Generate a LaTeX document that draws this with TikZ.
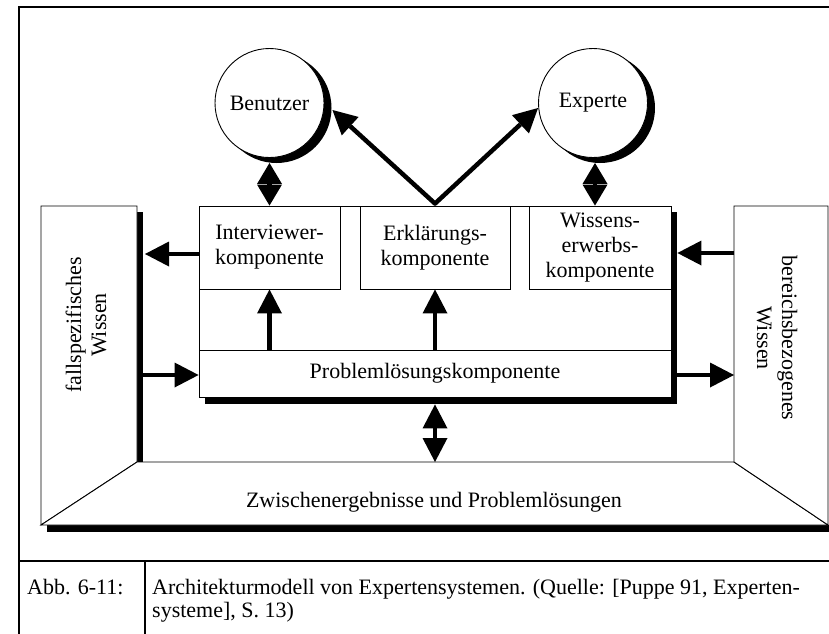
\documentclass[tikz,border=0pt]{standalone}
\usepackage{fontspec}
\setmainfont{Liberation Serif}
\usetikzlibrary{arrows.meta,calc}
\begin{document}
\begin{tikzpicture}[x=1pt,y=-1pt,
  >={Triangle[length=24pt,width=25pt,line width=0pt]},
  txt/.style={font=\fontsize{22}{25}\selectfont, align=center, inner sep=0pt},
  hair/.style={line width=0.9pt},
  frameline/.style={line width=2.4pt},
  comp/.style={txt, draw, hair, fill=white},
  person/.style={txt, circle, draw, hair, fill=white, minimum size=109pt},
  personshadow/.style={circle, fill=black, draw=none, inner sep=0pt, minimum size=110pt},
  flow/.style={line width=4.5pt, ->},
  twoway/.style={line width=4.5pt, <->},
  link/.style={line width=4.5pt, <->, >={Triangle[length=21pt,width=25pt,line width=0pt]}},
  shadowstrip/.style={fill=black},
]
\useasboundingbox (0,0) rectangle (829,633);
\clip (0,0) rectangle (829,633);

% page frame and caption rules
\draw[frameline] (19,650) -- (19,7) -- (850,7);
\draw[frameline] (19,561) -- (850,561);
\draw[line width=2.2pt] (145,561) -- (145,650);

% tray of the knowledge bases: shadows, walls and floor
\fill[shadowstrip] (137,212) rectangle (143,462);
\fill[shadowstrip] (47,525) rectangle (850,532);
\draw[hair, fill=white] (41,206) -- (137,206) -- (137,462) -- (41,525) -- cycle;
\draw[hair, fill=white] (41,525) -- (137,462) -- (734,462) -- (828,525) -- cycle;
\draw[hair, fill=white] (734,206) -- (828,206) -- (828,525) -- (734,462) -- cycle;

\node[txt, rotate=90] (fall) at (86,325) {fallspezifisches\\Wissen};
\node[txt, rotate=-90] (bereich) at (777,338) {bereichsbezogenes\\Wissen};
\node[txt] (zwischen) at (434,502) {Zwischenergebnisse und Problemlösungen};

% component block with its shadow
\fill[shadowstrip] (205,212) rectangle (677,404);
\draw[hair, fill=white] (199,206) rectangle (671,397);
\node[comp, minimum width=141pt, minimum height=83pt] (interviewer) at (269.5,247.5) {Interviewer-\\komponente};
\node[comp, minimum width=150pt, minimum height=83pt] (erklaerung) at (435,247.5) {Erklärungs-\\komponente};
\node[comp, minimum width=142pt, minimum height=83pt] (wissen) at (600,247.5) {Wissens-\\erwerbs-\\komponente};
\node[comp, minimum width=472pt, minimum height=47pt] (problem) at (435,373.5) {Problemlösungskomponente};

% persons with their crescent shadows
\node[personshadow] (bshadow) at (276.5,108) {};
\node[personshadow] (eshadow) at (600,108) {};
\node[person] (benutzer) at (269.5,103) {Benutzer};
\node[person] (experte) at (593,103) {Experte};

% connector end points
\coordinate (benutzerTip) at ($(benutzer.east)+(8,7)$);
\coordinate (experteTip) at ($(experte.west)+(0,5)$);
\coordinate (apex) at ($(erklaerung.north)+(0,-2)$);
\coordinate (fallIn) at (145,254);
\coordinate (fallOut) at (143,375);
\coordinate (bereichOut) at (734,253);
\coordinate (bereichIn) at (734,375);
\coordinate (floorTop) at (435,462);

% connectors
\draw[link] ($(benutzer.south)+(0,5)$) -- (interviewer.north);
\draw[link] ($(experte.south)+(2,5)$) -- ($(experte.south |- wissen.north)+(2,0)$);
\draw[line width=4.5pt, <->, line join=round] (benutzerTip) -- (apex) -- (experteTip);
\draw[flow] (interviewer.west |- fallIn) -- (fallIn);
\draw[flow] (bereichOut) -- ($(wissen.east |- bereichOut)+(6,0)$);
\draw[flow] (fallOut) -- (problem.west |- fallOut);
\draw[flow] (problem.east |- bereichIn) -- (bereichIn);
\draw[flow] (interviewer.south |- problem.north) -- (interviewer.south);
\draw[flow] (erklaerung.south |- problem.north) -- (erklaerung.south);
\draw[twoway] ($(problem.south)+(0,7)$) -- (floorTop);

% caption
\node[txt, anchor=base west] (abb) at (27,594) {Abb. 6-11:};
\node[txt, anchor=base west] (cap1) at (152,594) {Architekturmodell von Expertensystemen. (Quelle: [Puppe 91, Experten-};
\node[txt, anchor=base west] (cap2) at (152,617) {systeme], S. 13)};
\end{tikzpicture}
\end{document}
